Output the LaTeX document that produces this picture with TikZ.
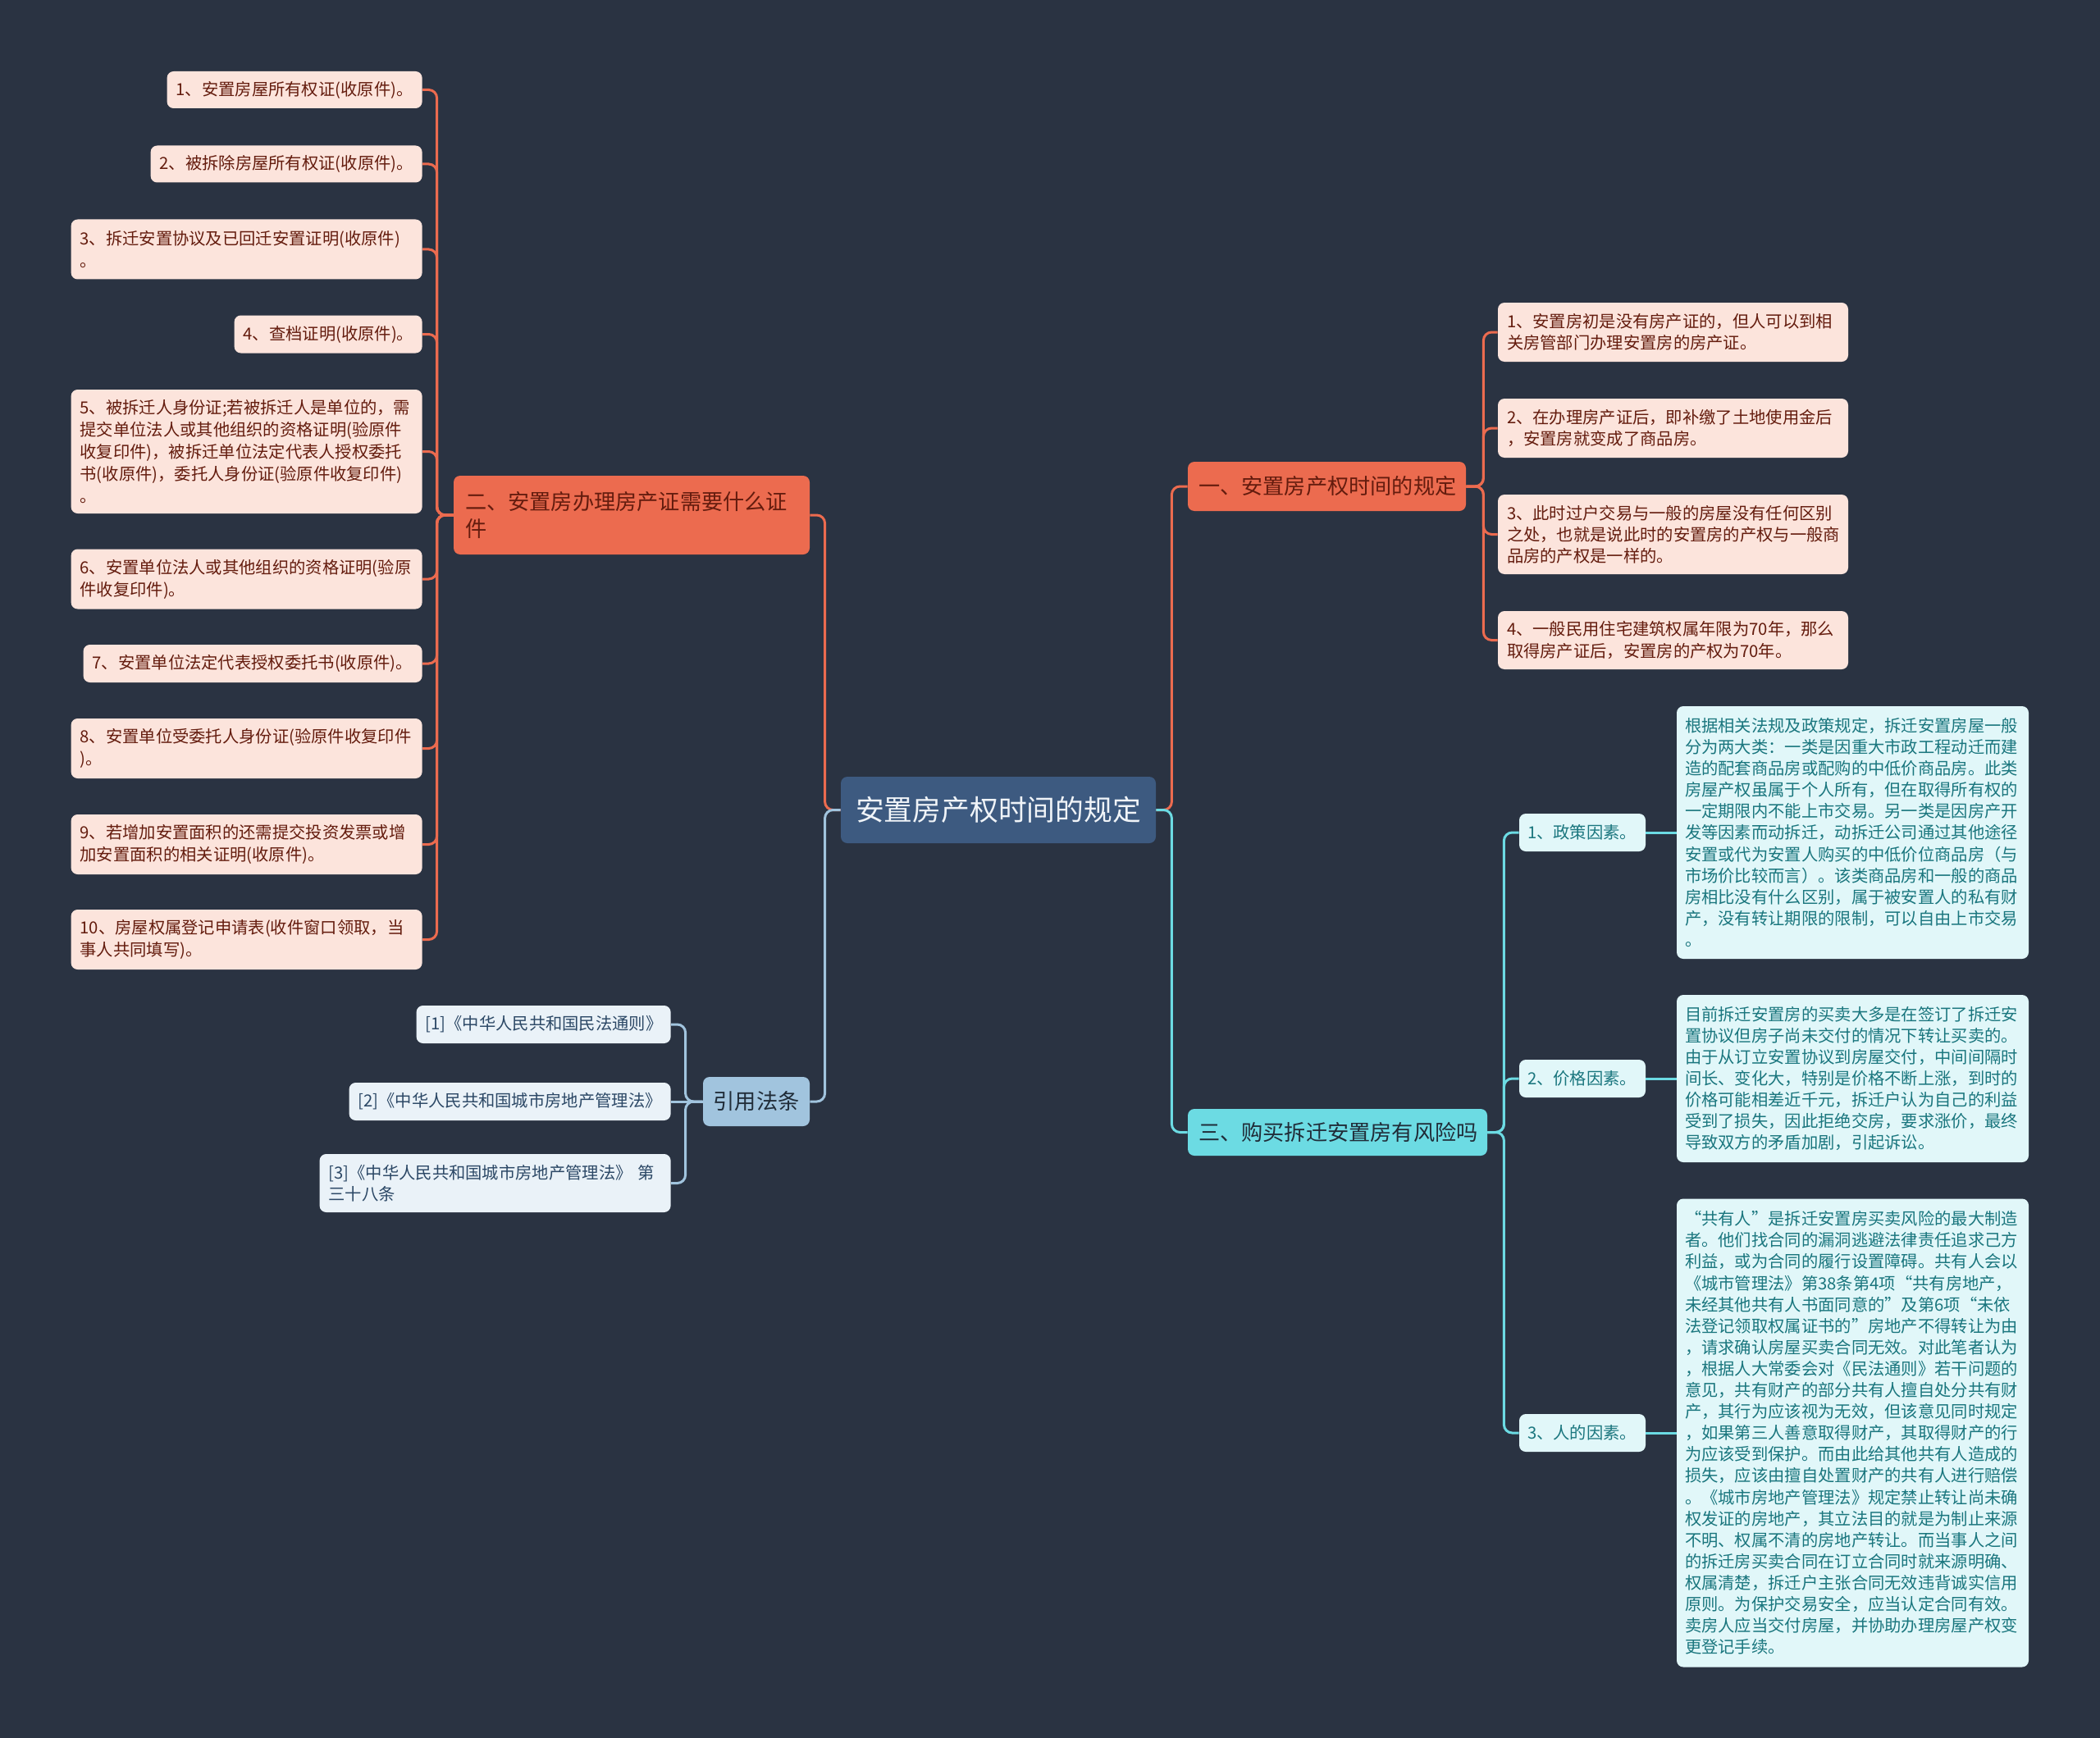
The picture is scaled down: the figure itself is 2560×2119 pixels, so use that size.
\documentclass[tikz,border=0pt]{standalone}
\usepackage{fontspec}
\setmainfont{Noto Sans CJK SC}
\definecolor{bgnavy}{RGB}{42,51,66}
\definecolor{rootblue}{RGB}{61,90,128}
\definecolor{roottext}{RGB}{240,244,248}
\definecolor{coral}{RGB}{236,107,79}
\definecolor{coralpale}{RGB}{252,228,220}
\definecolor{coraltext}{RGB}{100,28,14}
\definecolor{aqua}{RGB}{108,219,227}
\definecolor{aquapale}{RGB}{225,247,249}
\definecolor{aquatext}{RGB}{26,118,126}
\definecolor{steel}{RGB}{161,196,222}
\definecolor{steelpale}{RGB}{234,242,248}
\definecolor{steeltext}{RGB}{44,72,102}
\definecolor{darktext}{RGB}{32,44,56}

\begin{document}
\begin{tikzpicture}[x=0.5pt, y=-0.5pt,
  box/.style={rounded corners=4pt, inner ysep=0pt, align=left},
  body/.style={font=\fontsize{10.15}{13.05}\selectfont},
  head/.style={font=\fontsize{13.1}{16.5}\selectfont},
  req/.style={box, font=\fontsize{10.15}{13.4}\selectfont, fill=coralpale, text=coraltext, inner xsep=5.5pt, anchor=east},
  rule/.style={box, body, fill=coralpale, text=coraltext, inner xsep=5.5pt, text width=202.5pt},
  factor/.style={box, body, fill=aquapale, text=aquatext, inner xsep=5pt, text width=67pt, minimum height=23pt},
  detail/.style={box, body, fill=aquapale, text=aquatext, inner xsep=5pt, text width=204.5pt},
  law/.style={box, body, fill=steelpale, text=steeltext, inner xsep=5.5pt, anchor=east},
  link/.style={line width=1.5pt, rounded corners=5pt}
]
  \fill[bgnavy] (0,0) rectangle (2560,2119);

  \node[box, fill=rootblue, text=roottext, font=\fontsize{17.4}{20}\selectfont, align=center, text width=174pt, inner xsep=9pt, minimum height=40.5pt] (root) at (1217,987.5) {安置房产权时间的规定};

  \node[box, head, fill=coral, text=coraltext, text width=156.5pt, inner xsep=6.5pt, minimum height=30pt] (secA) at (1617.5,593) {一、安置房产权时间的规定};
  \node[box, head, fill=coral, text=coraltext, text width=203pt, inner xsep=7pt, minimum height=48pt] (secB) at (770,628) {二、安置房办理房产证需要什么证\\件};
  \node[box, head, fill=aqua, text=darktext, text width=169.5pt, inner xsep=6.5pt, minimum height=28.5pt] (secC) at (1630.5,1380.5) {三、购买拆迁安置房有风险吗};
  \node[box, head, fill=steel, text=darktext, align=center, text width=53pt, inner xsep=6pt, minimum height=30pt] (cite) at (922,1343) {引用法条};

  \node[req, text width=144.5pt, minimum height=22.5pt] (req1) at (515,109.5) {1、安置房屋所有权证(收原件)。};
  \node[req, text width=154.5pt, minimum height=22.5pt] (req2) at (515,200) {2、被拆除房屋所有权证(收原件)。};
  \node[req, text width=203pt, minimum height=36.5pt] (req3) at (515,304) {3、拆迁安置协议及已回迁安置证明(收原件)\\。};
  \node[req, text width=103.5pt, minimum height=23pt] (req4) at (515,407.5) {4、查档证明(收原件)。};
  \node[req, text width=203pt, minimum height=75.5pt] (req5) at (515,550.5) {5、被拆迁人身份证;若被拆迁人是单位的，需\\提交单位法人或其他组织的资格证明(验原件\\收复印件)，被拆迁单位法定代表人授权委托\\书(收原件)，委托人身份证(验原件收复印件)\\。};
  \node[req, text width=203pt, minimum height=36.5pt] (req6) at (515,706) {6、安置单位法人或其他组织的资格证明(验原\\件收复印件)。};
  \node[req, text width=195.5pt, minimum height=23pt] (req7) at (515,809) {7、安置单位法定代表授权委托书(收原件)。};
  \node[req, text width=203pt, minimum height=36.5pt] (req8) at (515,912.5) {8、安置单位受委托人身份证(验原件收复印件\\)。};
  \node[req, text width=203pt, minimum height=36.5pt] (req9) at (515,1029.5) {9、若增加安置面积的还需提交投资发票或增\\加安置面积的相关证明(收原件)。};
  \node[req, text width=203pt, minimum height=36.5pt] (req10) at (515,1145.5) {10、房屋权属登记申请表(收件窗口领取，当\\事人共同填写)。};

  \node[rule, minimum height=36pt] (rule1) at (2039.5,405) {1、安置房初是没有房产证的，但人可以到相\\关房管部门办理安置房的房产证。};
  \node[rule, minimum height=36pt] (rule2) at (2039.5,522) {2、在办理房产证后，即补缴了土地使用金后\\，安置房就变成了商品房。};
  \node[rule, minimum height=48.5pt] (rule3) at (2039.5,651.5) {3、此时过户交易与一般的房屋没有任何区别\\之处，也就是说此时的安置房的产权与一般商\\品房的产权是一样的。};
  \node[rule, minimum height=35.5pt] (rule4) at (2039.5,780.5) {4、一般民用住宅建筑权属年限为70年，那么\\取得房产证后，安置房的产权为70年。};

  \node[factor] (factor1) at (1929,1015) {1、政策因素。};
  \node[factor] (factor2) at (1929,1315) {2、价格因素。};
  \node[factor] (factor3) at (1929,1747) {3、人的因素。};

  \node[detail, minimum height=154pt] (detail1) at (2258.5,1015) {根据相关法规及政策规定，拆迁安置房屋一般\\分为两大类：一类是因重大市政工程动迁而建\\造的配套商品房或配购的中低价商品房。此类\\房屋产权虽属于个人所有，但在取得所有权的\\一定期限内不能上市交易。另一类是因房产开\\发等因素而动拆迁，动拆迁公司通过其他途径\\安置或代为安置人购买的中低价位商品房（与\\市场价比较而言）。该类商品房和一般的商品\\房相比没有什么区别，属于被安置人的私有财\\产，没有转让期限的限制，可以自由上市交易\\。};
  \node[detail, minimum height=102pt] (detail2) at (2258.5,1315) {目前拆迁安置房的买卖大多是在签订了拆迁安\\置协议但房子尚未交付的情况下转让买卖的。\\由于从订立安置协议到房屋交付，中间间隔时\\间长、变化大，特别是价格不断上涨，到时的\\价格可能相差近千元，拆迁户认为自己的利益\\受到了损失，因此拒绝交房，要求涨价，最终\\导致双方的矛盾加剧，引起诉讼。};
  \node[detail, minimum height=285.5pt] (detail3) at (2258.5,1747) {“共有人”是拆迁安置房买卖风险的最大制造\\者。他们找合同的漏洞逃避法律责任追求己方\\利益，或为合同的履行设置障碍。共有人会以\\《城市管理法》第38条第4项“共有房地产，\\未经其他共有人书面同意的”及第6项“未依\\法登记领取权属证书的”房地产不得转让为由\\，请求确认房屋买卖合同无效。对此笔者认为\\，根据人大常委会对《民法通则》若干问题的\\意见，共有财产的部分共有人擅自处分共有财\\产，其行为应该视为无效，但该意见同时规定\\，如果第三人善意取得财产，其取得财产的行\\为应该受到保护。而由此给其他共有人造成的\\损失，应该由擅自处置财产的共有人进行赔偿\\。《城市房地产管理法》规定禁止转让尚未确\\权发证的房地产，其立法目的就是为制止来源\\不明、权属不清的房地产转让。而当事人之间\\的拆迁房买卖合同在订立合同时就来源明确、\\权属清楚，拆迁户主张合同无效违背诚实信用\\原则。为保护交易安全，应当认定合同有效。\\卖房人应当交付房屋，并协助办理房屋产权变\\更登记手续。};

  \node[law, text width=144pt, minimum height=23pt] (law1) at (818,1249) {[1]《中华人民共和国民法通则》};
  \node[law, text width=185pt, minimum height=23pt] (law2) at (818,1343) {[2]《中华人民共和国城市房地产管理法》};
  \node[law, text width=203pt, minimum height=35.5pt] (law3) at (818,1442.5) {[3]《中华人民共和国城市房地产管理法》 第\\三十八条};

  \foreach \n in {1,...,10}
    \draw[link, coral] (secB.west) -- ++(-20,0) |- (req\n.east);
  \foreach \n in {1,...,4}
    \draw[link, coral] (secA.east) -- ++(21,0) |- (rule\n.west);
  \foreach \n in {1,2,3} {
    \draw[link, aqua] (secC.east) -- ++(20,0) |- (factor\n.west);
    \draw[link, aqua] (factor\n.east) -- (detail\n.west);
  }
  \foreach \n in {1,3}
    \draw[link, steel] (cite.west) -- ++(-21,0) |- (law\n.east);
  \draw[link, steel] (cite.west) -- (law2.east);

  \draw[link, coral] (root.east) -- ++(19,0) |- (secA.west);
  \draw[link, coral] (root.west) -- ++(-19,0) |- (secB.east);
  \draw[link, aqua] (root.east) -- ++(19,0) |- (secC.west);
  \draw[link, steel] (root.west) -- ++(-19,0) |- (cite.east);
\end{tikzpicture}
\end{document}
